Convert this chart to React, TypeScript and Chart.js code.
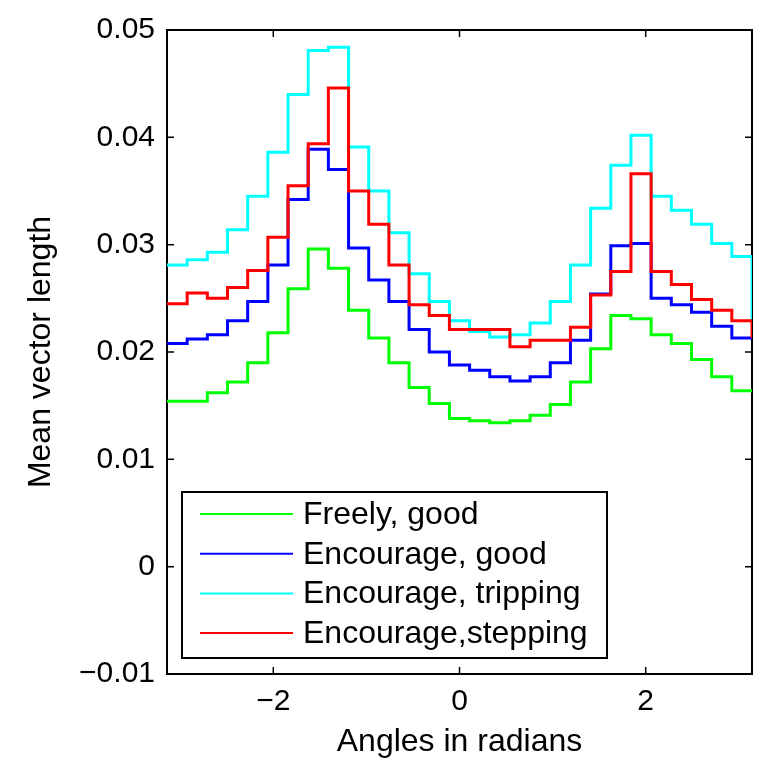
import React, { useEffect, useRef } from 'react';
import { Chart, registerables } from 'chart.js';

Chart.register(...registerables);

// Bin edges (radians), from -pi to pi
const ANGLES = [
  -3.1416, -2.9249, -2.7083, -2.4916, -2.275, -2.0583, -1.8416, -1.625, -1.4083, -1.1917,
  -0.975, -0.7583, -0.5417, -0.325, -0.1083, 0.1083, 0.325, 0.5417, 0.7583, 0.975,
  1.1917, 1.4083, 1.625, 1.8416, 2.0583, 2.275, 2.4916, 2.7083, 2.9249, 3.1416,
];

const FREELY_GOOD = [
  0.0154, 0.0154, 0.0162, 0.0172, 0.019, 0.0218, 0.0259, 0.0296, 0.0278, 0.0239,
  0.0213, 0.019, 0.0167, 0.0152, 0.0138, 0.0136, 0.0134, 0.0136, 0.0141, 0.0151,
  0.0172, 0.0203, 0.0234, 0.0231, 0.0216, 0.0208, 0.0193, 0.0177, 0.0164, 0.0164,
];

const ENCOURAGE_GOOD = [
  0.0208, 0.0212, 0.0216, 0.0229, 0.0247, 0.0281, 0.0342, 0.0389, 0.037, 0.0297,
  0.0267, 0.0247, 0.0221, 0.02, 0.0188, 0.0183, 0.0177, 0.0173, 0.0177, 0.019,
  0.0211, 0.0254, 0.0299, 0.0301, 0.025, 0.0244, 0.0237, 0.0224, 0.0213, 0.0213,
];

const ENCOURAGE_TRIPPING = [
  0.0281, 0.0286, 0.0293, 0.0314, 0.0345, 0.0386, 0.044, 0.0481, 0.0484, 0.0391,
  0.035, 0.0311, 0.0273, 0.0247, 0.0229, 0.0219, 0.0214, 0.0216, 0.0227, 0.0247,
  0.0281, 0.0334, 0.0374, 0.0402, 0.0345, 0.0332, 0.0319, 0.0301, 0.0289, 0.023,
];

const ENCOURAGE_STEPPING = [
  0.0245, 0.0255, 0.025, 0.026, 0.0276, 0.0307, 0.0355, 0.0394, 0.0446, 0.035,
  0.0319, 0.0281, 0.0244, 0.0234, 0.0221, 0.0221, 0.0221, 0.0205, 0.0211, 0.0211,
  0.0223, 0.0253, 0.0275, 0.0366, 0.0275, 0.0263, 0.0249, 0.0239, 0.0229, 0.0213,
];

const SERIES = [FREELY_GOOD, ENCOURAGE_GOOD, ENCOURAGE_TRIPPING, ENCOURAGE_STEPPING];
const SERIES_LABELS = ['Freely, good', 'Encourage, good', 'Encourage, tripping', 'Encourage,stepping'];
const SERIES_COLORS = ['#00ff00', '#0000ff', '#00ffff', '#ff0000'];

const X_TICKS = [-2, 0, 2];
const X_TICK_LABELS = ['\u22122', '0', '2'];
const Y_TICKS = [-0.01, 0, 0.01, 0.02, 0.03, 0.04, 0.05];
const Y_TICK_LABELS = ['\u22120.01', '0', '0.01', '0.02', '0.03', '0.04', '0.05'];
const X_TITLE = 'Angles in radians';
const Y_TITLE = 'Mean vector length';

const FONT = "'Liberation Sans', Arial, Helvetica, sans-serif";
const TICK_FONT_SIZE = 30;
const TEXT_FONT_SIZE = 32;

const boxPlugin = {
  id: 'matlabBox',
  beforeDatasetsDraw(chart: any) {
    const { ctx, chartArea: a, scales } = chart;
    ctx.save();
    ctx.strokeStyle = '#000';
    ctx.lineWidth = 1.5;
    const tl = 7;
    ctx.beginPath();
    X_TICKS.forEach((v) => {
      const px = scales.x.getPixelForValue(v);
      ctx.moveTo(px, a.bottom);
      ctx.lineTo(px, a.bottom - tl);
      ctx.moveTo(px, a.top);
      ctx.lineTo(px, a.top + tl);
    });
    Y_TICKS.forEach((v) => {
      const py = scales.y.getPixelForValue(v);
      ctx.moveTo(a.left, py);
      ctx.lineTo(a.left + tl, py);
      ctx.moveTo(a.right, py);
      ctx.lineTo(a.right - tl, py);
    });
    ctx.stroke();
    ctx.lineWidth = 2;
    ctx.strokeRect(a.left, a.top, a.right - a.left, a.bottom - a.top);
    ctx.restore();
  },
  afterDatasetsDraw(chart: any) {
    const { ctx, chartArea: a } = chart;
    const left = a.left + 15;
    const bottom = a.bottom - 16;
    const w = 425;
    const h = 166;
    const top = bottom - h;
    ctx.save();
    ctx.fillStyle = '#fff';
    ctx.fillRect(left, top, w, h);
    ctx.strokeStyle = '#000';
    ctx.lineWidth = 2;
    ctx.strokeRect(left, top, w, h);
    ctx.font = `${TEXT_FONT_SIZE}px ${FONT}`;
    ctx.textBaseline = 'middle';
    ctx.textAlign = 'left';
    SERIES_LABELS.forEach((label, i) => {
      const y = top + 22 + i * 39.7;
      ctx.strokeStyle = SERIES_COLORS[i];
      ctx.lineWidth = 2;
      ctx.beginPath();
      ctx.moveTo(left + 18, y);
      ctx.lineTo(left + 111, y);
      ctx.stroke();
      ctx.fillStyle = '#000';
      ctx.fillText(label, left + 121, y + 1);
    });
    ctx.restore();
  },
};

export default function App() {
  const canvasRef = useRef<HTMLCanvasElement | null>(null);

  useEffect(() => {
    document.body.style.margin = '0';
    const canvas = canvasRef.current;
    if (!canvas) return;
    const chart = new Chart(canvas, {
      type: 'line',
      data: {
        datasets: SERIES.map((values, i) => ({
          label: SERIES_LABELS[i],
          data: ANGLES.map((x, j) => ({ x, y: values[j] })),
          borderColor: SERIES_COLORS[i],
          backgroundColor: SERIES_COLORS[i],
          borderWidth: 3,
          pointRadius: 0,
          fill: false,
          stepped: 'before' as const,
          order: SERIES.length - i,
        })),
      },
      options: {
        responsive: false,
        animation: false,
        devicePixelRatio: 1,
        layout: { padding: { top: 18, right: 13, left: 0, bottom: 0 } },
        plugins: {
          legend: { display: false },
          tooltip: { enabled: false },
        },
        scales: {
          x: {
            type: 'linear',
            min: -Math.PI,
            max: Math.PI,
            afterBuildTicks: (s: any) => {
              s.ticks = X_TICKS.map((v) => ({ value: v }));
            },
            afterFit: (s: any) => {
              s.height = 85;
            },
            ticks: {
              callback: (v: any) => {
                const k = X_TICKS.indexOf(Number(v));
                return k >= 0 ? X_TICK_LABELS[k] : '';
              },
              font: { family: FONT, size: TICK_FONT_SIZE },
              color: '#000',
              padding: 10,
              maxRotation: 0,
              autoSkip: false,
            },
            grid: { display: false, drawTicks: false },
            border: { display: false },
            title: {
              display: true,
              text: X_TITLE,
              color: '#000',
              font: { family: FONT, size: TEXT_FONT_SIZE, lineHeight: 1 },
              padding: { top: 0, bottom: 1 },
            },
          },
          y: {
            type: 'linear',
            min: -0.01,
            max: 0.05,
            afterBuildTicks: (s: any) => {
              s.ticks = Y_TICKS.map((v) => ({ value: v }));
            },
            afterFit: (s: any) => {
              s.width = 167;
            },
            ticks: {
              callback: (v: any) => {
                const k = Y_TICKS.findIndex((t) => Math.abs(t - Number(v)) < 1e-9);
                return k >= 0 ? Y_TICK_LABELS[k] : '';
              },
              font: { family: FONT, size: TICK_FONT_SIZE },
              color: '#000',
              padding: 12,
              autoSkip: false,
            },
            grid: { display: false, drawTicks: false },
            border: { display: false },
            title: {
              display: true,
              text: Y_TITLE,
              color: '#000',
              font: { family: FONT, size: TEXT_FONT_SIZE, lineHeight: 1 },
              padding: { top: 25, bottom: 0 },
            },
          },
        },
      },
      plugins: [boxPlugin],
    });
    return () => chart.destroy();
  }, []);

  return (
    <div style={{ width: 765, height: 759, background: '#fff' }}>
      <canvas ref={canvasRef} width={765} height={759} style={{ display: 'block' }} />
    </div>
  );
}
